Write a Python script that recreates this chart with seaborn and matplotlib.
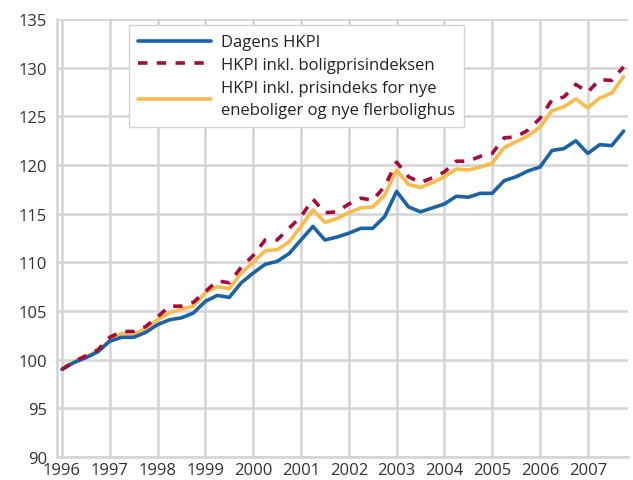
import matplotlib
matplotlib.use("Agg")
import matplotlib.pyplot as plt
import numpy as np
import pandas as pd
import seaborn as sns

# Quarterly index values 1996Q1 - 2007Q4
years = list(range(1996, 2008))
quarters = [y + q / 4 for y in years for q in range(4)]

dagens_hkpi = [
    99.0, 99.7, 100.2, 100.8,
    101.9, 102.3, 102.3, 102.8,
    103.6, 104.1, 104.3, 104.8,
    106.0, 106.6, 106.4, 107.9,
    108.9, 109.8, 110.1, 110.9,
    112.3, 113.7, 112.3, 112.6,
    113.0, 113.5, 113.5, 114.7,
    117.3, 115.7, 115.2, 115.6,
    116.0, 116.8, 116.7, 117.1,
    117.1, 118.4, 118.8, 119.4,
    119.8, 121.5, 121.7, 122.5,
    121.2, 122.1, 122.0, 123.5,
]
hkpi_bolig = [
    99.0, 99.8, 100.4, 101.0,
    102.3, 102.9, 102.9, 103.4,
    104.4, 105.5, 105.5, 105.9,
    107.0, 108.1, 107.9, 109.5,
    110.7, 112.3, 112.3, 113.5,
    114.7, 116.5, 115.1, 115.2,
    116.0, 116.6, 116.4, 117.8,
    120.3, 118.8, 118.2, 118.7,
    119.3, 120.4, 120.4, 120.9,
    121.2, 122.8, 122.9, 123.6,
    124.8, 126.7, 127.0, 128.3,
    127.5, 128.8, 128.7, 130.1,
]
hkpi_nye = [
    99.0, 99.8, 100.3, 100.9,
    102.0, 102.7, 102.6, 103.2,
    104.1, 104.8, 105.2, 105.5,
    106.9, 107.5, 107.3, 108.9,
    110.0, 111.2, 111.3, 112.1,
    113.7, 115.4, 114.1, 114.5,
    115.1, 115.6, 115.7, 116.9,
    119.5, 118.0, 117.7, 118.2,
    118.8, 119.6, 119.5, 119.8,
    120.2, 121.8, 122.4, 123.0,
    123.9, 125.6, 126.0, 126.8,
    125.9, 126.9, 127.4, 129.1,
]

labels = ["Dagens HKPI",
          "HKPI inkl. boligprisindeksen",
          "HKPI inkl. prisindeks for nye\neneboliger og nye flerbolighus"]

df = pd.DataFrame({"quarter": quarters,
                   labels[0]: dagens_hkpi,
                   labels[1]: hkpi_bolig,
                   labels[2]: hkpi_nye})

sns.set_style("white")
plt.rcParams["font.family"] = ["Open Sans", "DejaVu Sans"]

fig, ax = plt.subplots(figsize=(6.33, 4.81), dpi=100)
fig.subplots_adjust(left=0.090, right=0.992, top=0.958, bottom=0.048)

# orange under, blue, then dashed red on top
sns.lineplot(data=df, x="quarter", y=labels[2], ax=ax, color="#fbbb4c",
             linewidth=2.6, zorder=3, label=labels[2])
sns.lineplot(data=df, x="quarter", y=labels[0], ax=ax, color="#1b63a9",
             linewidth=2.6, zorder=4, label=labels[0])
sns.lineplot(data=df, x="quarter", y=labels[1], ax=ax, color="#a80a3c",
             linewidth=2.6, zorder=5, label=labels[1])
for ln in ax.lines:
    if ln.get_label() == labels[1]:
        ln.set_dashes([2.6, 2.6])

ax.set_xlim(1995.895, 2007.84)
ax.set_ylim(90, 135)
ax.set_xticks(years)
ax.set_xticklabels([str(y) for y in years])
ax.set_yticks(np.arange(90, 136, 5))
ax.set_xlabel("")
ax.set_ylabel("")
ax.grid(True, color="#d4d4d4", linewidth=1.8, zorder=0)
ax.set_axisbelow(True)
ax.tick_params(axis="both", length=0, labelsize=12, colors="#333333")
ax.tick_params(axis="y", pad=7)
ax.tick_params(axis="x", pad=3.5)

for side in ["top", "right"]:
    ax.spines[side].set_visible(False)
for side in ["left", "bottom"]:
    ax.spines[side].set_color("#d4d4d4")
    ax.spines[side].set_linewidth(1.8)

handles, labs = ax.get_legend_handles_labels()
order = [labs.index(l) for l in labels]
leg = ax.legend([handles[i] for i in order], [labs[i] for i in order],
                loc="upper left", bbox_to_anchor=(0.126, 0.986),
                fontsize=12, handlelength=4.4, handletextpad=0.55,
                labelspacing=0.4, borderpad=0.55, borderaxespad=0,
                frameon=True, fancybox=False, framealpha=1,
                edgecolor="#d4d4d4")
leg.get_frame().set_linewidth(1.0)
for t in leg.get_texts():
    t.set_color("#222222")
    t.set_linespacing(1.5)

fig.savefig("out.png", dpi=100)
